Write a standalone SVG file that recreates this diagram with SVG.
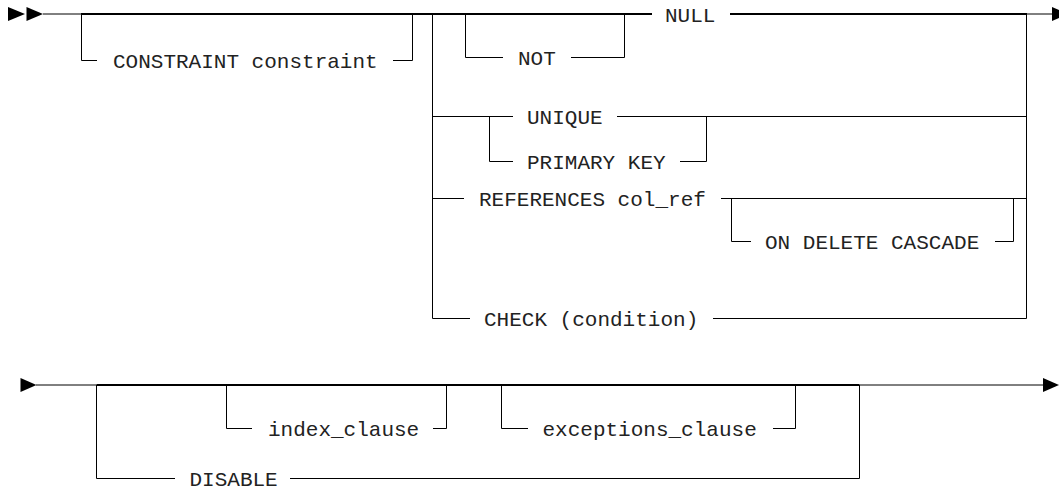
<svg xmlns="http://www.w3.org/2000/svg" width="1059" height="492" viewBox="0 0 1059 492">
<style>
  .t { font-family: "Courier New", "Liberation Mono", monospace; font-size: 21px; fill: #222; }
  .l { fill: none; stroke: #000; stroke-width: 1; }
  .m { fill: none; stroke: #000; stroke-width: 2; }
  .a { fill: #000; stroke: none; }
</style>
<rect width="1059" height="492" fill="#fff"/>
<g id="connectors">
  <!-- top row -->
  <polygon class="a" points="8,7 25,14 8,21"/>
  <polygon class="a" points="26.5,7 43,14 26.5,21"/>
  <path class="l" d="M43 14H81"/>
  <path class="m" d="M81 14H652 M730 14H1027"/>
  <path class="l" d="M1027 14H1052"/>
  <polygon class="a" points="1052,7 1068,14 1052,21"/>
  <!-- CONSTRAINT optional -->
  <path class="l" d="M81.5 14V60.5H97 M393 60.5H412.5V14"/>
  <!-- choice block -->
  <path class="l" d="M432.5 14V318.5 M1026.5 14V318.5"/>
  <!-- NOT optional -->
  <path class="l" d="M465.5 14V57.5H503 M571 57.5H624.5V14"/>
  <!-- UNIQUE / PRIMARY KEY -->
  <path class="l" d="M432.5 116.5H513 M617 116.5H1026.5"/>
  <path class="l" d="M489.5 116.5V161.5H513 M680 161.5H706.5V116.5"/>
  <!-- REFERENCES -->
  <path class="l" d="M432.5 198.5H464 M721 198.5H1026.5"/>
  <path class="l" d="M731.5 198.5V241.5H751 M995 241.5H1013.5V198.5"/>
  <!-- CHECK -->
  <path class="l" d="M432.5 318.5H470 M713 318.5H1026.5"/>
  <!-- bottom row -->
  <polygon class="a" points="20.5,378 36.5,385 20.5,392"/>
  <path class="l" d="M36 385H96.5"/>
  <path class="m" d="M96.5 385H859.5"/>
  <path class="l" d="M859.5 385H1043"/>
  <polygon class="a" points="1043,378 1059,385 1043,392"/>
  <path class="l" d="M96.5 385V478.5H175 M290 478.5H859.5V385"/>
  <path class="l" d="M226.5 385V428.5H252 M433 428.5H446.5V385"/>
  <path class="l" d="M501.5 385V428.5H528 M773 428.5H795.5V385"/>
</g>
<g id="n-constraint"><text class="t" x="113" y="68">CONSTRAINT constraint</text></g>
<g id="n-not"><text class="t" x="518" y="65">NOT</text></g>
<g id="n-null"><text class="t" x="665" y="21.5">NULL</text></g>
<g id="n-unique"><text class="t" x="527" y="124">UNIQUE</text></g>
<g id="n-primary-key"><text class="t" x="527" y="169">PRIMARY KEY</text></g>
<g id="n-references"><text class="t" x="479" y="206">REFERENCES col_ref</text></g>
<g id="n-on-delete-cascade"><text class="t" x="765" y="249">ON DELETE CASCADE</text></g>
<g id="n-check"><text class="t" x="484" y="326">CHECK (condition)</text></g>
<g id="n-index-clause"><text class="t" x="268" y="436">index_clause</text></g>
<g id="n-exceptions-clause"><text class="t" x="542.5" y="436">exceptions_clause</text></g>
<g id="n-disable"><text class="t" x="189.5" y="485.5">DISABLE</text></g>
</svg>
